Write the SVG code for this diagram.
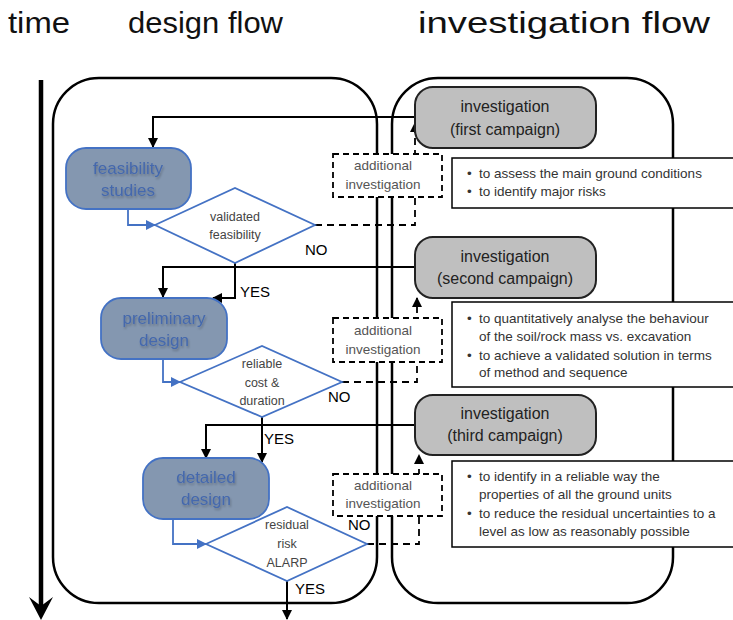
<svg xmlns="http://www.w3.org/2000/svg" width="733" height="620" viewBox="0 0 733 620">
<defs>
<marker id="ak" markerWidth="10" markerHeight="10" refX="9" refY="5" orient="auto" markerUnits="userSpaceOnUse"><path d="M0,0 L10,5 L0,10 Z" fill="#000"/></marker>
<marker id="ab" markerWidth="10" markerHeight="10" refX="9" refY="5" orient="auto" markerUnits="userSpaceOnUse"><path d="M0,0 L10,5 L0,10 Z" fill="#4472c4"/></marker>
<filter id="sh" x="-10%" y="-10%" width="130%" height="140%"><feGaussianBlur in="SourceAlpha" stdDeviation="1.2"/><feOffset dx="1" dy="1.5" result="o"/><feFlood flood-color="#000" flood-opacity="0.25"/><feComposite in2="o" operator="in"/><feMerge><feMergeNode/><feMergeNode in="SourceGraphic"/></feMerge></filter>
</defs>
<style>
text{font-family:"Liberation Sans",Arial,sans-serif;}
.head{font-size:30px;fill:#111;}
.frame{fill:none;stroke:#000;stroke-width:2.5;}
.inv rect{fill:#bfbfbf;stroke:#222;stroke-width:2;}
.inv text{font-size:16px;fill:#222;text-anchor:middle;}
.des rect{fill:#8497b0;stroke:#4472c4;stroke-width:1.8;}
.des text{font-size:17px;fill:#4468ad;text-anchor:middle;}
.dia polygon{fill:#fff;stroke:#4472c4;stroke-width:1.8;}
.dia text{font-size:12.5px;fill:#444;text-anchor:middle;}
.add rect{fill:#fff;stroke:#000;stroke-width:1.8;stroke-dasharray:6,4;}
.add text{font-size:13.5px;fill:#555;text-anchor:middle;}
.bul rect{fill:#fff;stroke:#000;stroke-width:1.5;}
.bul text{font-size:13.5px;fill:#333;}
.lbl{font-size:15px;fill:#000;}
.c{fill:none;stroke:#000;stroke-width:2;}
.cb{fill:none;stroke:#4472c4;stroke-width:1.8;}
.cd{fill:none;stroke:#000;stroke-width:1.8;stroke-dasharray:7,5;}
</style>
<g id="headings">
<text class="head" x="8" y="33" textLength="62" lengthAdjust="spacingAndGlyphs">time</text>
<text class="head" x="128" y="33" textLength="155" lengthAdjust="spacingAndGlyphs">design flow</text>
<text class="head" x="418" y="33" textLength="292" lengthAdjust="spacingAndGlyphs">investigation flow</text>
</g>
<g id="time-axis">
<line x1="41" y1="80" x2="41" y2="606" stroke="#000" stroke-width="4.5"/>
<path d="M29,597 L41,620 L53,597 L41,606 Z" fill="#000"/>
</g>
<g id="design-frame"><rect class="frame" x="53" y="78" width="324" height="525" rx="46"/></g>
<g id="investigation-frame"><rect class="frame" x="392" y="78" width="281" height="525" rx="46"/></g>
<g id="connectors">
<path class="c" d="M415,117 H153 V147" marker-end="url(#ak)"/>
<path class="cb" d="M128,209 V225 H155" marker-end="url(#ab)"/>
<path class="cd" d="M315,225 H415 V123" marker-end="url(#ak)"/>
<path class="c" d="M415,267 H163 V297" marker-end="url(#ak)"/>
<path class="c" d="M235,263 V298 H213" marker-end="url(#ak)"/>
<path class="cb" d="M163,359 V382 H180" marker-end="url(#ab)"/>
<path class="cd" d="M342,382 H417 V298" marker-end="url(#ak)"/>
<path class="c" d="M415,425 H206 V458" marker-end="url(#ak)"/>
<path class="c" d="M262,417 V462" marker-end="url(#ak)"/>
<path class="cb" d="M173,519 V544 H206" marker-end="url(#ab)"/>
<path class="cd" d="M367,544 H419 V455" marker-end="url(#ak)"/>
<path class="c" d="M287,581 V619" marker-end="url(#ak)"/>
</g>
<g id="labels">
<text class="lbl" x="305" y="255">NO</text>
<text class="lbl" x="240" y="297">YES</text>
<text class="lbl" x="328" y="402">NO</text>
<text class="lbl" x="264" y="444">YES</text>
<text class="lbl" x="348" y="530">NO</text>
<text class="lbl" x="295" y="594">YES</text>
</g>
<g id="add1" class="add"><rect x="333" y="154" width="109" height="43"/><text x="383" y="170">additional</text><text x="383" y="189">investigation</text></g>
<g id="add2" class="add"><rect x="333" y="318" width="109" height="44"/><text x="383" y="335">additional</text><text x="383" y="354">investigation</text></g>
<g id="add3" class="add"><rect x="333" y="474" width="109" height="42"/><text x="383" y="490">additional</text><text x="383" y="508">investigation</text></g>
<g id="inv1" class="inv"><rect x="415" y="87" width="181" height="61" rx="18"/><text x="505" y="112">investigation</text><text x="505" y="135">(first campaign)</text></g>
<g id="inv2" class="inv"><rect x="415" y="237" width="181" height="61" rx="18"/><text x="505" y="262">investigation</text><text x="505" y="284">(second campaign)</text></g>
<g id="inv3" class="inv"><rect x="415" y="395" width="181" height="60" rx="18"/><text x="505" y="419">investigation</text><text x="505" y="441">(third campaign)</text></g>
<g id="bul1" class="bul"><rect x="452" y="158" width="290" height="50"/>
<text x="467" y="178">•</text><text x="479" y="178">to assess the main ground conditions</text>
<text x="467" y="196">•</text><text x="479" y="196">to identify major risks</text></g>
<g id="bul2" class="bul"><rect x="452" y="302" width="290" height="85"/>
<text x="467" y="323">•</text><text x="479" y="323">to quantitatively analyse the behaviour</text>
<text x="479" y="341">of the soil/rock mass vs. excavation</text>
<text x="467" y="360">•</text><text x="479" y="360">to achieve a validated solution in terms</text>
<text x="479" y="377">of method and sequence</text></g>
<g id="bul3" class="bul"><rect x="452" y="461" width="290" height="86"/>
<text x="467" y="481">•</text><text x="479" y="481">to identify in a reliable way the</text>
<text x="479" y="499">properties of all the ground units</text>
<text x="467" y="518">•</text><text x="479" y="518">to reduce the residual uncertainties to a</text>
<text x="479" y="536">level as low as reasonably possible</text></g>
<g id="feasibility" class="des"><rect x="66" y="148" width="125" height="61" rx="20"/><g filter="url(#sh)"><text x="128" y="174">feasibility</text><text x="128" y="196">studies</text></g></g>
<g id="preliminary" class="des"><rect x="101" y="298" width="126" height="61" rx="20"/><g filter="url(#sh)"><text x="164" y="324">preliminary</text><text x="164" y="346">design</text></g></g>
<g id="detailed" class="des"><rect x="143" y="458" width="126" height="61" rx="20"/><g filter="url(#sh)"><text x="206" y="483">detailed</text><text x="206" y="505">design</text></g></g>
<g id="dec1" class="dia"><polygon points="155,225 235,188 315,225 235,263"/><text x="235" y="221">validated</text><text x="235" y="239">feasibility</text></g>
<g id="dec2" class="dia"><polygon points="180,382 262,346 342,382 262,417"/><text x="262" y="368">reliable</text><text x="262" y="387">cost &amp;</text><text x="262" y="405">duration</text></g>
<g id="dec3" class="dia"><polygon points="206,544 287,507 367,544 287,581"/><text x="287" y="529">residual</text><text x="287" y="548">risk</text><text x="287" y="567">ALARP</text></g>
</svg>
